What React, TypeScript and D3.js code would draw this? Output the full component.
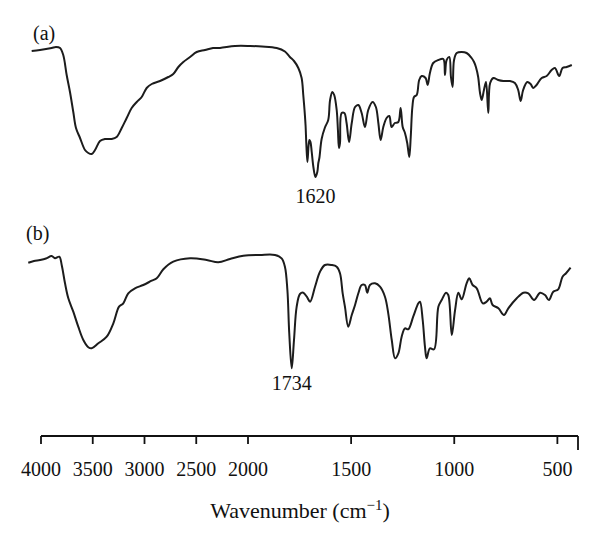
import React from "react";
import * as d3 from "d3";

// Wavenumber (cm^-1) and transmittance (a.u.)
const wavenumbersA = [4090,4010,3897,3855,3816,3785,3752,3720,3688,3662,3623,3575,3543,3510,3478,3430,3382,3317,3269,3220,3172,3124,3075,3027,2979,2930,2850,2770,2722,2673,2625,2560,2496,2415,2338,2271,2126,1990,1932,1861,1821,1797,1777,1756,1740,1732,1726,1721,1717,1712,1706,1702,1697,1691,1683,1673,1664,1659,1654,1643,1627,1611,1602,1591,1582,1570,1564,1559,1554,1546,1533,1522,1510,1497,1481,1465,1449,1433,1417,1396,1380,1368,1357,1344,1328,1315,1304,1288,1271,1260,1250,1239,1228,1218,1211,1203,1195,1182,1170,1158,1139,1129,1118,1102,1077,1053,1045,1037,1024,1016,1008,1001,988,964,940,916,904,895,884,875,867,856,846,835,826,810,787,762,730,706,690,678,666,646,630,617,601,576,552,528,512,491,475,455,430];
const transmittanceA = [139,140,142,143,142,135,115,98,78,62,52,40,37,36,40,49,51,51,53,62,72,82,88,93,102,106,109,113,116,123,128,133,138,140,142,142,144,144,143.5,142,138.5,133,129,122,112,95,80,65,45,28,45,50,48,38,23,13,18,27,32,51,62.5,70,90,98,95,80,60,42,47,77,77,67,48,67,83,85,77,63,80,88,83,67,50,63,72,74,63,67,68,82,63,57,47,33,53,83,93,95,110,114,112,105,117,127,130,131,115,130,133,113,103,130,137,138,137,132,128,123,113,97,90,100,108,77,107,112,110,109,109,107,100,89,100,108,106,102,105,112,114,120,122,114,122,123,125];

const wavenumbersB = [4123,4068,4010,3952,3897,3865,3823,3800,3768,3736,3688,3640,3591,3543,3510,3446,3365,3301,3246,3205,3157,3092,3012,2930,2882,2818,2722,2560,2399,2287,2174,2045,1942,1869,1837,1821,1809,1800,1788,1777,1764,1748,1732,1715,1699,1675,1651,1627,1594,1570,1554,1541,1530,1514,1497,1481,1465,1449,1433,1422,1409,1384,1360,1336,1320,1303,1287,1271,1255,1239,1223,1199,1174,1166,1153,1142,1134,1118,1098,1077,1061,1040,1029,1012,996,980,964,940,927,911,891,862,843,827,814,786,759,738,697,665,641,613,584,560,541,520,496,475,458,436];
const transmittanceB = [117.3,119,120,121.5,124,121.7,123.3,115,96.7,81.7,68.3,53.3,40,32.7,31.7,36.7,43.3,56.7,73.3,76.7,86.7,91.7,95,99.3,101.7,110.7,118.3,121.7,120,117.7,121,124.3,125,125,121.7,113.3,90,46.7,11.7,40,73.3,86,87.3,83.3,78.3,93.3,108.3,115,115,113.3,106.7,86.7,73.3,53.3,65,75,86.7,95,95,87.3,95,96.7,93.3,83.3,66.7,40,21.7,26.7,43.3,51.7,50.7,63.3,76.7,78.3,60,33.3,21.7,31.7,30.7,73.3,80,87.3,85,45,70,87.3,80.7,96.7,101.7,95,91.7,76.7,78.3,81.7,75,71.7,65,71.7,81.7,87.3,86.7,80,87.3,85,80,88.3,90.7,103.3,106.7,112.3];

const tickValues = [4000, 3500, 3000, 2500, 2000, 1500, 1000, 500];
const axisDomain = [4000, 2000, 400];
const peakLabelA = "1620";
const peakLabelB = "1734";
const panelLabels = ["(a)", "(b)"];

const W = 600;
const H = 536;
const FONT = "'Liberation Serif', 'Times New Roman', serif";

export default function App() {
  const x = d3.scaleLinear().domain(axisDomain).range([41, 248, 578]);
  const yA = d3.scaleLinear().domain([0, 150]).range([190, 40]);
  const yB = d3.scaleLinear().domain([0, 150]).range([380, 230]);

  const dataA = wavenumbersA.map((w, i) => [w, transmittanceA[i]] as [number, number]);
  const dataB = wavenumbersB.map((w, i) => [w, transmittanceB[i]] as [number, number]);

  const lineA = d3
    .line<[number, number]>()
    .x((d) => x(d[0]))
    .y((d) => yA(d[1]))
    .curve(d3.curveCatmullRom.alpha(0.5));
  const lineB = d3
    .line<[number, number]>()
    .x((d) => x(d[0]))
    .y((d) => yB(d[1]))
    .curve(d3.curveCatmullRom.alpha(0.5));

  const minA = dataA.reduce((m, d) => (d[1] < m[1] ? d : m), dataA[0]);
  const minB = dataB.reduce((m, d) => (d[1] < m[1] ? d : m), dataB[0]);

  const axisY = 436;
  const x0 = x(axisDomain[0]);
  const x1 = x(axisDomain[axisDomain.length - 1]);

  return (
    <svg
      width={W}
      height={H}
      style={{ position: "absolute", left: 0, top: 0, background: "#fff" }}
      fontFamily={FONT}
    >
      <rect width={W} height={H} fill="#fff" />
      <path d={lineA(dataA) || ""} fill="none" stroke="#1c1c1c" strokeWidth={2} strokeLinejoin="round" />
      <path d={lineB(dataB) || ""} fill="none" stroke="#1c1c1c" strokeWidth={2} strokeLinejoin="round" />

      <text x={33} y={40} fontSize={20} fill="#111">{panelLabels[0]}</text>
      <text x={26} y={240} fontSize={20} fill="#111">{panelLabels[1]}</text>

      <text x={x(minA[0])} y={yA(minA[1]) + 26} fontSize={20} textAnchor="middle" fill="#111">
        {peakLabelA}
      </text>
      <text x={x(minB[0])} y={yB(minB[1]) + 22} fontSize={20} textAnchor="middle" fill="#111">
        {peakLabelB}
      </text>

      <g stroke="#111" strokeWidth={1.8}>
        <line x1={x0} x2={x1} y1={axisY} y2={axisY} />
        {tickValues.map((t) => (
          <line key={t} x1={x(t)} x2={x(t)} y1={axisY} y2={axisY + 8} />
        ))}
        <line x1={x1} x2={x1} y1={axisY} y2={axisY + 14} />
      </g>
      {tickValues.map((t) => (
        <text key={t} x={x(t)} y={axisY + 40} fontSize={20} textAnchor="middle" fill="#111">
          {t}
        </text>
      ))}
      <text x={300} y={axisY + 82} fontSize={22} textAnchor="middle" fill="#111">
        Wavenumber (cm
        <tspan baselineShift="super" fontSize={15}>−1</tspan>)
      </text>
    </svg>
  );
}
